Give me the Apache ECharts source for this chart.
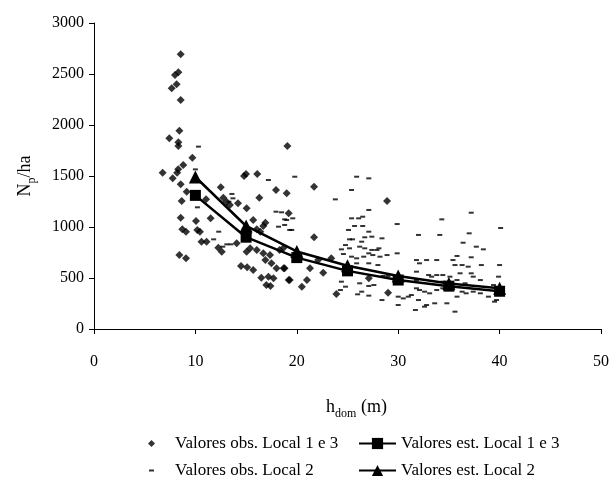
<!DOCTYPE html>
<html>
<head>
<meta charset="utf-8">
<script src="https://cdn.jsdelivr.net/npm/echarts@6/dist/echarts.min.js"></script>
<style>
    html, body { margin: 0; padding: 0; background: #fff; }
    #chart { width: 612px; height: 478px; }
</style>
</head>
<body>
<div id="chart"></div>
<script>
// observed values, Local 1 e 3 (diamonds)  [hdom, Np/ha]
const obsLocal13 = [
    [8.55, 2693], [7.99, 2490], [8.32, 2517], [7.66, 2360], [8.15, 2399], [8.55, 2245],
    [8.42, 1944], [7.43, 1869], [8.32, 1830], [8.32, 1794], [19.07, 1794], [9.7, 1679],
    [8.8, 1608], [8.3, 1565], [8.2, 1532], [6.77, 1532], [7.76, 1477], [8.55, 1418],
    [9.14, 1346], [8.65, 1255], [8.55, 1091], [8.71, 977], [9.07, 954], [10.06, 1059],
    [10.19, 971], [10.45, 954], [10.6, 856], [11.1, 856], [8.42, 725], [9.07, 693],
    [11.05, 1271], [11.5, 1085], [12.26, 797], [12.6, 758], [12.5, 1389], [12.75, 1287],
    [13.08, 1248], [13.4, 1216], [14.2, 1232], [15.05, 1183], [14.8, 1500], [14.99, 1520],
    [16.1, 1520], [16.3, 1287], [17.95, 1363], [19.0, 1330], [15.7, 1069], [16.9, 1042],
    [16.4, 954], [14.07, 840], [15.4, 791], [16.05, 775], [16.7, 742], [17.36, 725],
    [18.3, 775], [16.9, 676], [17.5, 644], [18.0, 595], [18.8, 595], [14.5, 618],
    [15.1, 605], [15.7, 578], [16.5, 503], [17.2, 513], [17.7, 497], [17.0, 431],
    [17.4, 422], [19.2, 480], [15.2, 937], [16.05, 977], [16.7, 1010], [15.05, 758],
    [18.7, 797], [21.7, 1395], [19.2, 1134], [21.7, 899], [28.9, 1255], [18.7, 595],
    [19.3, 480], [20.5, 415], [21.0, 480], [21.3, 595], [22.6, 552], [22.1, 676],
    [23.4, 693], [23.9, 343], [27.1, 497], [29.0, 356]
];

// observed values, Local 2 (dashes)
const obsLocal2 = [
    [10.3, 1788], [10.0, 1565], [17.2, 1461], [13.6, 1324], [13.7, 1281], [13.3, 1248],
    [10.2, 1193], [12.3, 954], [11.8, 879], [12.7, 807], [13.1, 830], [13.5, 830],
    [17.95, 1150], [18.5, 1144], [19.0, 1069], [18.8, 1020], [18.2, 1003], [19.3, 971],
    [19.8, 1493], [25.9, 1493], [27.1, 1477], [25.4, 1363], [23.8, 1271], [27.1, 1167],
    [29.9, 1029], [37.2, 1140], [34.3, 1075], [18.8, 1075], [19.6, 1085], [19.5, 971],
    [25.4, 1085], [26.1, 1085], [26.5, 1101], [25.1, 971], [25.7, 1010], [26.5, 1010],
    [27.1, 954], [27.4, 905], [26.7, 899], [25.2, 879], [25.5, 879], [26.4, 856],
    [24.8, 823], [24.4, 781], [25.2, 791], [26.2, 807], [26.7, 791], [27.4, 775],
    [27.9, 775], [28.1, 791], [28.4, 889], [24.6, 735], [25.4, 709], [25.9, 693],
    [26.6, 709], [27.1, 742], [27.5, 725], [28.2, 709], [28.9, 725], [25.9, 644],
    [27.1, 644], [28.0, 627], [28.5, 520], [29.0, 520], [29.9, 742], [31.8, 676],
    [32.1, 644], [32.8, 676], [33.8, 676], [31.8, 562], [33.0, 529], [33.8, 529],
    [34.4, 529], [24.4, 464], [24.8, 415], [24.3, 382], [26.2, 448], [26.4, 366],
    [27.1, 422], [27.6, 431], [26.0, 340], [27.1, 327], [28.4, 284], [30.0, 317],
    [30.5, 300], [31.0, 317], [31.3, 333], [31.8, 399], [32.1, 382], [32.6, 366],
    [33.1, 350], [33.8, 382], [34.4, 399], [35.0, 382], [32.0, 284], [32.8, 235],
    [33.6, 252], [34.8, 252], [35.8, 317], [36.3, 366], [36.7, 350], [37.4, 366],
    [38.1, 350], [38.9, 317], [39.5, 268], [39.9, 513], [31.7, 186], [32.6, 219],
    [35.6, 170], [30.0, 235], [32.0, 922], [34.1, 922], [36.4, 846], [37.0, 938],
    [37.7, 807], [38.4, 781], [38.2, 627], [35.8, 716], [37.2, 703], [35.6, 627],
    [36.3, 627], [36.9, 611], [35.4, 676], [36.1, 546], [37.2, 546], [37.4, 513],
    [38.1, 480], [35.8, 480], [36.6, 448], [35.1, 513], [34.4, 464], [31.8, 480],
    [33.3, 513], [40.1, 990], [40.0, 627], [39.7, 284], [39.4, 431]
];

// estimated curves
const estX = [10, 15, 20, 25, 30, 35, 40];
const estLocal13 = [1310, 900, 700, 570, 480, 420, 370];
const estLocal2 = [1490, 1010, 760, 620, 520, 445, 400];

const chart = echarts.init(document.getElementById('chart'));
const font = 'Liberation Serif';

// one legend per entry so the two columns line up like the original
let legendItem = (name, icon, left, top, w, h, pad) => ({
    data: [icon ? { name: name, icon: icon } : name],
    left: left,
    top: top,
    padding: 0,
    itemWidth: w,
    itemHeight: h,
    selectedMode: false,
    textStyle: { fontFamily: font, fontSize: 17, color: '#000', padding: [0, 0, 0, pad] }
});

const subRich = {
    b: { fontFamily: font, fontSize: 18, color: '#000', lineHeight: 22, verticalAlign: 'bottom' },
    s: { fontFamily: font, fontSize: 12, color: '#000', lineHeight: 22, verticalAlign: 'bottom', padding: [0, 0, -4, 0] }
};

const option = {
    animation: false,
    grid: { left: 94, right: 11, top: 23, bottom: 149 },
    legend: [
        legendItem('Valores obs. Local 1 e 3', 'diamond', 148, 435, 7, 7, 15),
        legendItem('Valores est. Local 1 e 3', null, 358, 435, 37, 14, 0),
        legendItem('Valores obs. Local 2', 'rect', 149, 462, 5, 2, 16),
        legendItem('Valores est. Local 2', null, 358, 462, 37, 14, 0)
    ],
    xAxis: {
        type: 'value',
        min: 0, max: 50, interval: 10,
        name: '{b|h}{s|dom}{b| (m)}',
        nameLocation: 'middle',
        nameGap: 65,
        nameTextStyle: { rich: subRich, padding: [0, 0, 0, 18] },
        axisLine: { lineStyle: { color: '#000', width: 1 } },
        axisTick: { show: true, length: 5, lineStyle: { color: '#000' } },
        axisLabel: { fontFamily: font, fontSize: 16, color: '#000', margin: 25 },
        splitLine: { show: false }
    },
    yAxis: {
        type: 'value',
        min: 0, max: 3000, interval: 500,
        name: '{b|N}{s|p}{b|/ha}',
        nameLocation: 'middle',
        nameRotate: 90,
        nameGap: 60,
        nameTextStyle: { rich: subRich },
        axisLine: { show: true, lineStyle: { color: '#000', width: 1 } },
        axisTick: { show: true, length: 5, lineStyle: { color: '#000' } },
        axisLabel: {
            fontFamily: font, fontSize: 16, color: '#000', margin: 10,
            formatter: (v) => String(v)
        },
        splitLine: { show: false }
    },
    series: [
        {
            name: 'Valores obs. Local 1 e 3',
            type: 'scatter',
            symbol: 'diamond',
            symbolSize: 8,
            itemStyle: { color: '#000' },
            data: obsLocal13
        },
        {
            name: 'Valores obs. Local 2',
            type: 'scatter',
            symbol: 'rect',
            symbolSize: [5, 2],
            itemStyle: { color: '#000' },
            data: obsLocal2
        },
        {
            name: 'Valores est. Local 1 e 3',
            type: 'line',
            symbol: 'rect',
            symbolSize: 11,
            lineStyle: { color: '#000', width: 2.5 },
            itemStyle: { color: '#000' },
            data: estX.map((x, i) => [x, estLocal13[i]])
        },
        {
            name: 'Valores est. Local 2',
            type: 'line',
            symbol: 'triangle',
            symbolSize: 13,
            lineStyle: { color: '#000', width: 2.5 },
            itemStyle: { color: '#000' },
            data: estX.map((x, i) => [x, estLocal2[i]])
        }
    ]
};

chart.setOption(option);
window.addEventListener('resize', () => {
    chart.resize();
});
</script>
</body>
</html>
